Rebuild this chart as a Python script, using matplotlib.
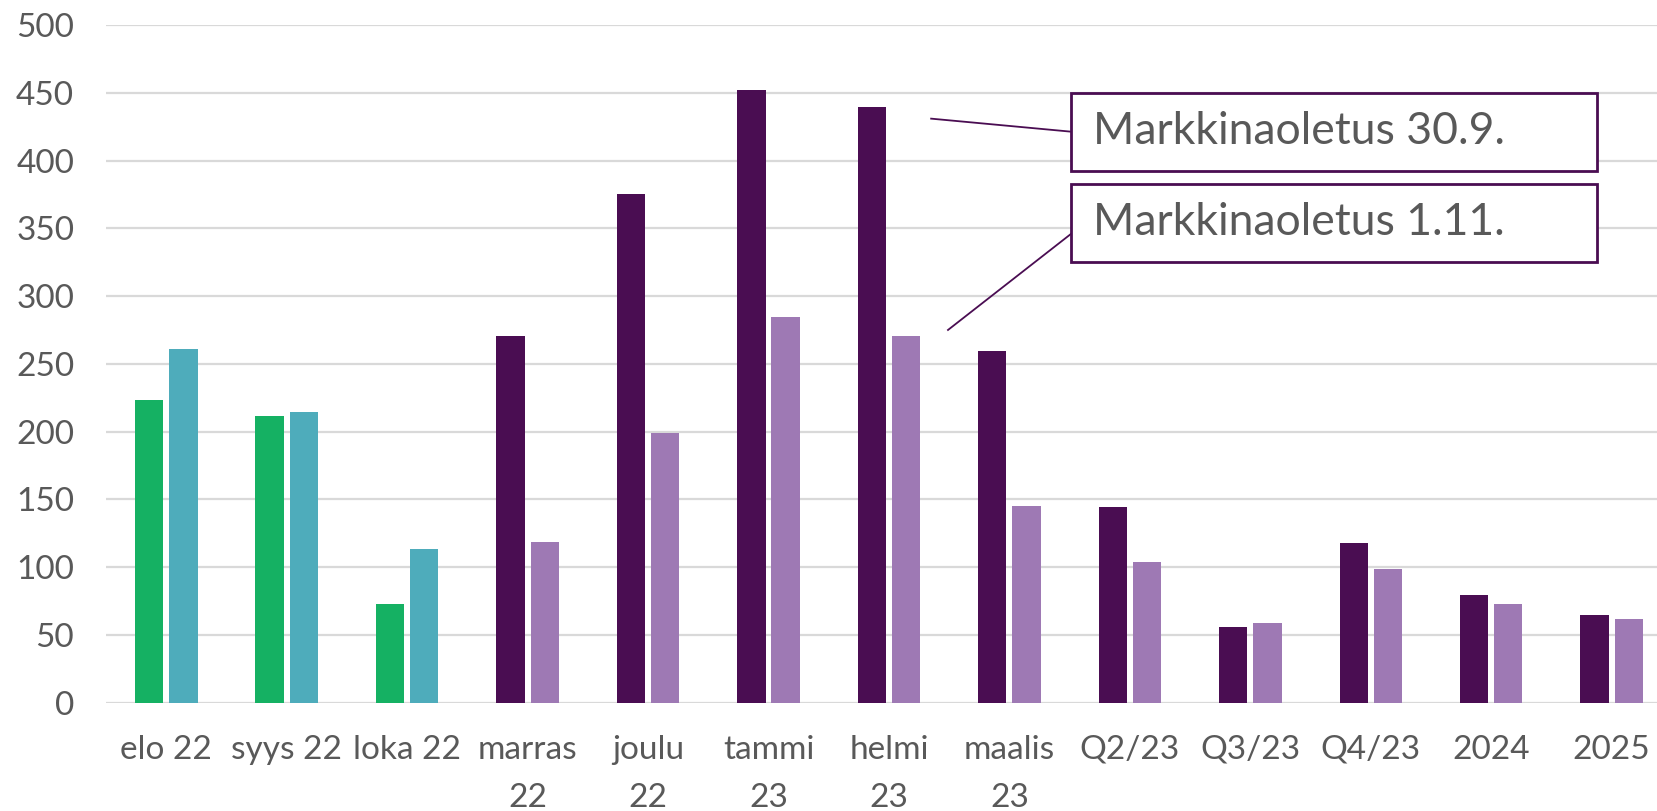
import numpy as np
import matplotlib
matplotlib.use("Agg")
import matplotlib.pyplot as plt
from matplotlib.patches import Rectangle

plt.rcParams['font.family'] = ['Lato', 'DejaVu Sans']

# ----------------------------
# Data
# ----------------------------
categories = ["elo 22", "syys 22", "loka 22", "marras\n22", "joulu\n22", "tammi\n23",
              "helmi\n23", "maalis\n23", "Q2/23", "Q3/23", "Q4/23", "2024", "2025"]
# first bar of each pair (realised: green, then forecast 30.9.: dark purple)
first_vals = [223, 211.5, 73, 270.5, 375, 452, 439.5, 259.5, 144.5, 56, 117.5, 79.5, 64.5]
# second bar of each pair (realised: teal, then forecast 1.11.: light purple)
second_vals = [261, 214.5, 113.5, 118.5, 199, 284.5, 270.5, 145, 103.5, 58.5, 99, 72.5, 61.5]
n_realised = 3

green = "#15B163"
teal = "#4EACBB"
dark_purple = "#4A0D52"
light_purple = "#9E79B4"
text_grey = "#595959"
grid_grey = "#D9D9D9"

first_colors = [green] * n_realised + [dark_purple] * (len(categories) - n_realised)
second_colors = [teal] * n_realised + [light_purple] * (len(categories) - n_realised)

# ----------------------------
# Plot
# ----------------------------
fig = plt.figure(figsize=(16.57, 8.11), dpi=100)
ax = fig.add_axes([0.064, 0.1335, 0.945, 0.8357])

x = np.arange(len(categories))
w = 0.235
off = 0.142
ax.bar(x - off, first_vals, width=w, color=first_colors, zorder=3)
ax.bar(x + off, second_vals, width=w, color=second_colors, zorder=3)

ax.set_xlim(-0.5, len(categories) - 0.5)
ax.set_ylim(0, 500)
ax.set_yticks(np.arange(0, 501, 50))
ax.yaxis.grid(True, color=grid_grey, linewidth=1.6, zorder=0)
ax.set_axisbelow(True)
for s in ax.spines.values():
    s.set_visible(False)

ax.set_xticks(x)
ax.set_xticklabels(categories, linespacing=1.75)
ax.tick_params(axis="x", length=0, pad=23, labelsize=24, labelcolor=text_grey)
ax.tick_params(axis="y", length=0, pad=23, labelsize=24, labelcolor=text_grey)

# Callout boxes
box_x0, box_x1 = 7.51, 11.88
boxes = [
    ("Markkinaoletus 30.9.", 392.5, 449.8, (6.35, 430.9), 421.3),
    ("Markkinaoletus 1.11.", 325.4, 382.9, (6.49, 275.0), 345.8),
]
for label, y0, y1, (lx, ly), ey in boxes:
    ax.add_patch(Rectangle((box_x0, y0), box_x1 - box_x0, y1 - y0, facecolor="white",
                           edgecolor=dark_purple, linewidth=2, zorder=5, clip_on=False))
    ax.plot([lx, box_x0], [ly, ey], color=dark_purple, linewidth=1.3, zorder=4, clip_on=False)
    ax.text(box_x0 + 0.18, (y0 + y1) / 2, label, fontsize=32, color=text_grey,
            va="center", ha="left", zorder=6)

plt.savefig("out.png", dpi=100)
